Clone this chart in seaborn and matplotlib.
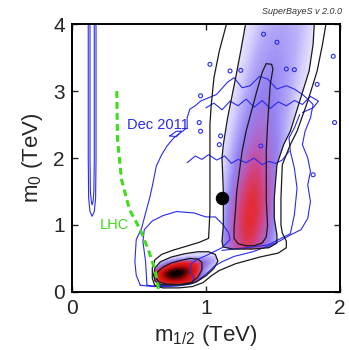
import numpy as np
import matplotlib
matplotlib.use("Agg")
import matplotlib.pyplot as plt
from matplotlib.colors import LinearSegmentedColormap
from matplotlib.patches import Polygon
import seaborn as sns


# -------------------------------------------------
# Posterior anchors (weighted points)
# -------------------------------------------------
# focus-point region (large m0)
hi_x = [1.21, 1.33, 1.45, 1.21, 1.33, 1.45, 1.21, 1.33, 1.45, 1.22, 1.34, 1.46,
        1.23, 1.35, 1.47, 1.26, 1.38, 1.50, 1.30, 1.42, 1.54, 1.35, 1.47, 1.59,
        1.40, 1.52, 1.64, 1.44, 1.56, 1.68, 1.48, 1.60, 1.72]
hi_y = [0.68, 0.68, 0.68, 0.90, 0.90, 0.90, 1.15, 1.15, 1.15, 1.45, 1.45, 1.45,
        1.80, 1.80, 1.80, 2.20, 2.20, 2.20, 2.60, 2.60, 2.60, 3.00, 3.00, 3.00,
        3.40, 3.40, 3.40, 3.80, 3.80, 3.80, 4.20, 4.20, 4.20]
hi_w = [0.85, 1.3, 0.85, 0.85, 1.3, 0.85, 0.72, 1.1, 0.7, 0.58, 0.85, 0.52,
        0.48, 0.7, 0.42, 0.4, 0.6, 0.36, 0.36, 0.52, 0.33, 0.33, 0.46, 0.3,
        0.3, 0.4, 0.28, 0.26, 0.35, 0.26, 0.24, 0.3, 0.24]

# stau co-annihilation region (small m0)
lo_x = [0.68, 0.76, 0.84, 0.92, 0.66, 0.74, 0.82, 0.90, 0.72, 0.80, 0.88, 0.96, 1.02]
lo_y = [0.18, 0.18, 0.18, 0.20, 0.28, 0.28, 0.29, 0.31, 0.38, 0.39, 0.41, 0.42, 0.46]
lo_w = [0.5, 0.8, 0.7, 0.4, 0.6, 1.0, 1.0, 0.6, 0.4, 0.6, 0.5, 0.25, 0.12]

# -------------------------------------------------
# Credible contours (black), traced
# -------------------------------------------------
c68_hi_x = [1.30, 1.24, 1.21, 1.21, 1.22, 1.23, 1.25, 1.27, 1.30, 1.34, 1.38, 1.42, 1.45,
            1.49, 1.50, 1.48, 1.47, 1.46, 1.45, 1.45, 1.45, 1.46, 1.45, 1.42, 1.36, 1.30]
c68_hi_y = [0.69, 0.72, 0.80, 0.95, 1.20, 1.50, 1.80, 2.10, 2.40, 2.70, 3.00, 3.28, 3.41,
            3.40, 3.33, 3.10, 2.80, 2.50, 2.10, 1.70, 1.38, 1.00, 0.82, 0.73, 0.69, 0.69]

c68_lo_x = [0.62, 0.64, 0.68, 0.74, 0.81, 0.88, 0.94, 0.97, 0.97, 0.94, 0.89, 0.80, 0.70, 0.65, 0.62]
c68_lo_y = [0.22, 0.30, 0.37, 0.43, 0.47, 0.50, 0.49, 0.44, 0.33, 0.22, 0.14, 0.11, 0.12, 0.15, 0.22]

c95_hi_x = [1.30, 1.26, 1.22, 1.16, 1.13, 1.12, 1.13, 1.13, 1.12, 1.13, 1.20, 1.35, 1.47,
            1.53, 1.53, 1.51, 1.51, 1.53, 1.58, 1.63, 1.70, 1.77, 1.80, 1.81]
c95_hi_y = [4.05, 3.60, 3.18, 2.58, 2.20, 2.00, 1.50, 1.00, 0.75, 0.67, 0.64, 0.64, 0.66,
            0.73, 0.85, 1.10, 1.40, 1.90, 2.20, 2.40, 2.85, 3.30, 3.70, 4.05]

c95_lo_x = [0.61, 0.62, 0.66, 0.74, 0.84, 0.94, 1.02, 1.07, 1.09, 1.06, 1.00, 0.93, 0.85,
            0.75, 0.66, 0.62, 0.61]
c95_lo_y = [0.25, 0.36, 0.45, 0.52, 0.57, 0.60, 0.60, 0.56, 0.46, 0.35, 0.24, 0.15, 0.11,
            0.10, 0.11, 0.16, 0.25]

c99_x = [1.16, 1.10, 1.06, 1.04, 1.03, 1.03, 1.03, 1.02, 0.95, 0.85, 0.75, 0.67, 0.62, 0.60,
         0.60, 0.62, 0.68, 0.80, 0.90, 0.98, 1.04, 1.10, 1.22, 1.40, 1.54, 1.60, 1.60, 1.57,
         1.56, 1.56, 1.57, 1.63, 1.68, 1.76, 1.83, 1.87, 1.90]
c99_y = [4.05, 3.60, 3.20, 2.80, 2.50, 2.00, 1.20, 0.80, 0.74, 0.68, 0.62, 0.56, 0.48, 0.36,
         0.20, 0.09, 0.06, 0.06, 0.08, 0.14, 0.24, 0.32, 0.42, 0.52, 0.58, 0.66, 0.76, 0.88,
         1.00, 1.40, 1.90, 2.20, 2.40, 2.85, 3.30, 3.70, 4.05]

# -------------------------------------------------
# Dec 2011 contours (blue), traced
# -------------------------------------------------
bo_x = [0.51, 0.48, 0.47, 0.48, 0.52, 0.55, 0.58, 0.60, 0.63, 0.67, 0.71, 0.76, 0.81, 0.86,
        0.86, 0.88, 0.92, 0.96, 1.02, 1.08, 1.16, 1.21, 1.27, 1.33, 1.40, 1.46, 1.53, 1.60,
        1.66, 1.72, 1.76, 1.80, 1.78, 1.74, 1.72, 1.76, 1.78, 1.76, 1.78, 1.76, 1.71, 1.63,
        1.55, 1.46, 1.35, 1.21, 1.12, 1.06, 1.02, 0.98, 0.91, 0.80, 0.71, 0.60, 0.51]
bo_y = [0.10, 0.25, 0.45, 0.78, 0.95, 1.18, 1.40, 1.58, 1.88, 2.05, 2.18, 2.30, 2.38, 2.45,
        2.60, 2.73, 2.78, 2.85, 2.90, 2.95, 3.13, 3.20, 3.05, 3.08, 3.22, 3.18, 3.03, 3.08,
        3.03, 2.95, 2.88, 2.80, 2.60, 2.40, 2.20, 2.00, 1.80, 1.60, 1.35, 1.10, 0.93, 0.85,
        0.76, 0.68, 0.60, 0.53, 0.45, 0.38, 0.30, 0.23, 0.13, 0.09, 0.08, 0.08, 0.10]

bi1_x = [0.56, 0.55, 0.53, 0.54, 0.60, 0.68, 0.78, 0.91, 1.00, 1.07, 1.13, 1.17, 1.18, 1.12,
         1.01, 0.93, 0.89, 0.88, 0.91, 0.89, 0.75, 0.60, 0.56]
bi1_y = [0.10, 0.45, 0.75, 0.93, 1.06, 1.14, 1.20, 1.18, 1.12, 1.12, 1.00, 0.88, 0.78, 0.66,
         0.55, 0.48, 0.42, 0.32, 0.20, 0.12, 0.10, 0.09, 0.10]

bi2_x = [1.12, 1.30, 1.46, 1.56, 1.63, 1.66, 1.68, 1.66, 1.63, 1.62, 1.66, 1.70]
bi2_y = [0.62, 0.66, 0.70, 0.80, 0.87, 1.15, 1.55, 1.85, 2.10, 2.30, 2.45, 2.65]

bw1_x = [0.86, 0.92, 0.97, 1.02, 1.08, 1.14, 1.19, 1.24, 1.30, 1.36, 1.42, 1.47, 1.52, 1.57, 1.62]
bw1_y = [1.93, 2.03, 1.98, 2.05, 1.97, 2.03, 1.92, 1.98, 1.93, 2.00, 1.90, 1.95, 1.92, 1.97, 2.10]

bw2_x = [1.00, 1.06, 1.12, 1.18, 1.24, 1.30, 1.36, 1.42, 1.48, 1.54, 1.60, 1.66, 1.72, 1.78,
         1.84, 1.80, 1.72]
bw2_y = [2.75, 2.82, 2.72, 2.85, 2.78, 2.88, 2.76, 2.86, 2.74, 2.84, 2.78, 2.86, 2.80, 2.92,
         2.85, 2.75, 2.68]

bisle_x = [0.73, 0.78, 0.82, 0.78, 0.73]
bisle_y = [2.33, 2.40, 2.40, 2.32, 2.33]

# narrow low-m1/2 band
bv_out_x = [0.122, 0.122, 0.125, 0.135, 0.151, 0.167, 0.177, 0.180, 0.180]
bv_out_y = [4.10, 2.00, 1.40, 1.20, 1.13, 1.20, 1.40, 2.00, 4.10]
bv_in_x = [0.135, 0.135, 0.138, 0.145, 0.151, 0.158, 0.164, 0.167, 0.167]
bv_in_y = [4.10, 2.00, 1.50, 1.35, 1.30, 1.35, 1.50, 2.00, 4.10]

# little isolated islands
dot_x = [1.43, 1.53, 1.18, 1.26, 1.60, 1.66, 0.96, 0.95, 0.96, 1.11, 1.10, 1.41, 1.80, 1.96,
         1.95, 1.83, 1.03]
dot_y = [3.85, 3.73, 3.30, 3.31, 3.33, 3.32, 2.93, 2.53, 2.40, 2.33, 2.20, 2.18, 1.75, 2.53,
         3.52, 3.10, 3.40]

# LHC exclusion line
lhc_x = [0.335, 0.34, 0.37, 0.43, 0.51, 0.57, 0.62, 0.65]
lhc_y = [3.00, 2.28, 1.68, 1.23, 0.93, 0.63, 0.33, 0.00]

# best fit
bf_x = [1.12]
bf_y = [1.40]


# -------------------------------------------------
# Plot
# -------------------------------------------------
sns.set_style("ticks")
plt.rcParams["font.family"] = ["Liberation Sans", "DejaVu Sans"]
plt.rcParams["mathtext.default"] = "regular"

cmap_lo = LinearSegmentedColormap.from_list(
    "lo", [(0.0, "#e4e0fe"), (0.1, "#aea2f6"), (0.22, "#9070e0"), (0.34, "#d03c70"),
           (0.45, "#ea1c1c"), (0.68, "#c40c0c"), (0.85, "#600404"), (1.0, "#000000")])
cmap_hi = LinearSegmentedColormap.from_list(
    "hi", [(0.0, "#e6e2fe"), (0.2, "#b8aefa"), (0.42, "#9482f2"), (0.6, "#ac68cc"),
           (0.78, "#cc4890"), (1.0, "#e42a30")])

fig = plt.figure(figsize=(3.49, 3.50), dpi=100)
ax = fig.add_axes([0.206, 0.166, 0.768, 0.765])

clip_hi = Polygon(np.column_stack([c95_hi_x, c95_hi_y]), closed=True, transform=ax.transData)
clip_lo = Polygon(np.column_stack([c95_lo_x, c95_lo_y]), closed=True, transform=ax.transData)

sns.kdeplot(x=hi_x, y=hi_y, weights=hi_w, fill=True, levels=40, thresh=0.002,
            cmap=cmap_hi, bw_adjust=1.1, ax=ax)
ax.collections[-1].set_clip_path(clip_hi)
sns.kdeplot(x=lo_x, y=lo_y, weights=lo_w, fill=True, levels=40, thresh=0.002,
            cmap=cmap_lo, bw_adjust=1.0, ax=ax)
ax.collections[-1].set_clip_path(clip_lo)

blue = "#2a2af0"
for xs, ys in [(bo_x, bo_y), (bi1_x, bi1_y), (bi2_x, bi2_y), (bw1_x, bw1_y),
               (bw2_x, bw2_y), (bisle_x, bisle_y), (bv_out_x, bv_out_y), (bv_in_x, bv_in_y)]:
    ax.plot(xs, ys, color=blue, lw=0.8)
sns.scatterplot(x=dot_x, y=dot_y, marker="o", s=8, facecolor="none",
                edgecolor=blue, linewidth=0.8, ax=ax)

for xs, ys in [(c99_x, c99_y), (c95_hi_x, c95_hi_y), (c95_lo_x, c95_lo_y),
               (c68_hi_x, c68_hi_y), (c68_lo_x, c68_lo_y)]:
    ax.plot(xs, ys, color="#1a1a1a", lw=0.9)

ax.plot(lhc_x, lhc_y, color="#3fdc1a", lw=2.2, dashes=(2.2, 1.4))
sns.scatterplot(x=bf_x, y=bf_y, s=80, color="black", edgecolor="black", ax=ax, zorder=5)

ax.text(0.41, 2.5, "Dec 2011", color=blue, fontsize=10.5, va="center")
ax.text(0.21, 1.0, "LHC", color="#3fdc1a", fontsize=10.5, va="center")
fig.text(0.98, 0.966, "SuperBayeS v 2.0.0", fontsize=6.5, style="italic",
         color="#333333", ha="right", va="center")

ax.set_xlim(0, 2)
ax.set_ylim(0, 4)
ax.set_xticks([0, 1, 2])
ax.set_yticks([0, 1, 2, 3, 4])
ax.tick_params(direction="in", length=4, width=1.0, labelsize=15, pad=5,
               top=True, right=True)
for s in ax.spines.values():
    s.set_linewidth(1.4)
    s.set_color("black")
ax.set_xlabel("m$_{1/2}$ (TeV)", fontsize=16, labelpad=4)
ax.set_ylabel("m$_0$ (TeV)", fontsize=16, labelpad=6)

fig.savefig("out.png", dpi=100)
plt.close(fig)
